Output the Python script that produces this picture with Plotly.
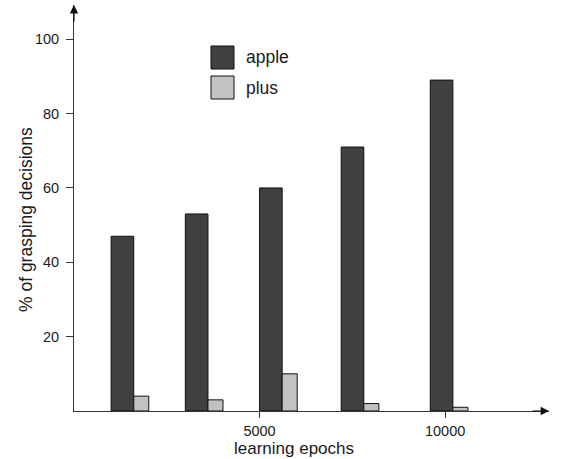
import plotly.graph_objects as go

# Data
epochs = [1000, 3000, 5000, 7200, 9600]      # left edge of each bar pair (learning epochs)
apple = [47, 53, 60, 71, 89]                 # % of grasping decisions for "apple"
plus = [4, 3, 10, 2, 1]                      # % of grasping decisions for "plus"
x_tick_vals = [5000, 10000]
x_tick_text = ["5000", "10000"]
y_tick_vals = [20, 40, 60, 80, 100]
y_tick_text = ["20", "40", "60", "80", "100"]

FONT = "Liberation Sans, Arial, Helvetica, sans-serif"
APPLE_W = 610
PLUS_W = 405

fig = go.Figure()
fig.add_trace(go.Bar(
    x=epochs, y=apple, name="apple",
    offset=0, width=[APPLE_W] * len(epochs),
    marker=dict(color="#404040", line=dict(color="#111111", width=1)),
    showlegend=False,
))
fig.add_trace(go.Bar(
    x=epochs, y=plus, name="plus",
    offset=APPLE_W, width=[PLUS_W] * len(epochs),
    marker=dict(color="#c2c2c2", line=dict(color="#111111", width=1)),
    showlegend=False,
))

L, R, T, B = 74, 20, 5, 48
W, H = 569, 459
pw = W - L - R
ph = H - T - B

def px_to_paper_x(px):
    return (px - L) / pw

def px_to_paper_y(py):
    return (H - B - py) / ph

shapes = []
annotations = []
# legend drawn as boxes + labels
for (top, label, color) in [(46, "apple", "#404040"), (76, "plus", "#c2c2c2")]:
    shapes.append(dict(
        type="rect", xref="paper", yref="paper",
        x0=px_to_paper_x(211), x1=px_to_paper_x(234),
        y0=px_to_paper_y(top + 23), y1=px_to_paper_y(top),
        fillcolor=color, line=dict(color="#111111", width=1),
    ))
    annotations.append(dict(
        text=label, xref="paper", yref="paper",
        x=px_to_paper_x(244), y=px_to_paper_y(top + 11.5),
        xanchor="left", yanchor="middle", showarrow=False,
        font=dict(family=FONT, size=17.5, color="#1a1a1a"),
    ))

# axis titles
annotations.append(dict(
    text="learning epochs", xref="paper", yref="paper",
    x=px_to_paper_x(294), y=px_to_paper_y(448.5),
    xanchor="center", yanchor="middle", showarrow=False, borderpad=0,
    font=dict(family=FONT, size=17, color="#1a1a1a"),
))
annotations.append(dict(
    text="% of grasping decisions", xref="paper", yref="paper",
    x=px_to_paper_x(26), y=px_to_paper_y(220), textangle=-90,
    xanchor="center", yanchor="middle", showarrow=False,
    font=dict(family=FONT, size=17.5, color="#1a1a1a"),
))
# axis arrows
annotations.append(dict(
    text="", xref="paper", yref="paper", x=0, y=1, ax=0, ay=18,
    showarrow=True, arrowhead=2, arrowsize=1.4, arrowwidth=1.2,
    arrowcolor="#111111",
))
annotations.append(dict(
    text="", xref="paper", yref="paper", x=1, y=0, ax=-18, ay=0,
    showarrow=True, arrowhead=2, arrowsize=1.4, arrowwidth=1.2,
    arrowcolor="#111111",
))

fig.update_layout(
    width=W, height=H,
    margin=dict(l=L, r=R, t=T, b=B),
    paper_bgcolor="white", plot_bgcolor="white",
    barmode="overlay",
    font=dict(family=FONT, size=14.5, color="#1a1a1a"),
    shapes=shapes, annotations=annotations,
    xaxis=dict(
        range=[0, 12800], showgrid=False, zeroline=False,
        showline=True, linecolor="#333333", linewidth=1,
        tickmode="array", tickvals=x_tick_vals, ticktext=x_tick_text,
        ticks="outside", ticklen=6, tickcolor="#333333", tickwidth=1,
        ticklabelstandoff=1,
    ),
    yaxis=dict(
        range=[0, 109.2], showgrid=False, zeroline=False,
        showline=True, linecolor="#333333", linewidth=1,
        tickmode="array", tickvals=y_tick_vals, ticktext=y_tick_text,
        ticks="outside", ticklen=7, tickcolor="#333333", tickwidth=1,
        ticklabelstandoff=4,
    ),
)

fig.write_html(
    "out.html",
    config={"displayModeBar": False},
    post_script="document.body.style.margin='0';document.body.style.padding='0';",
)
